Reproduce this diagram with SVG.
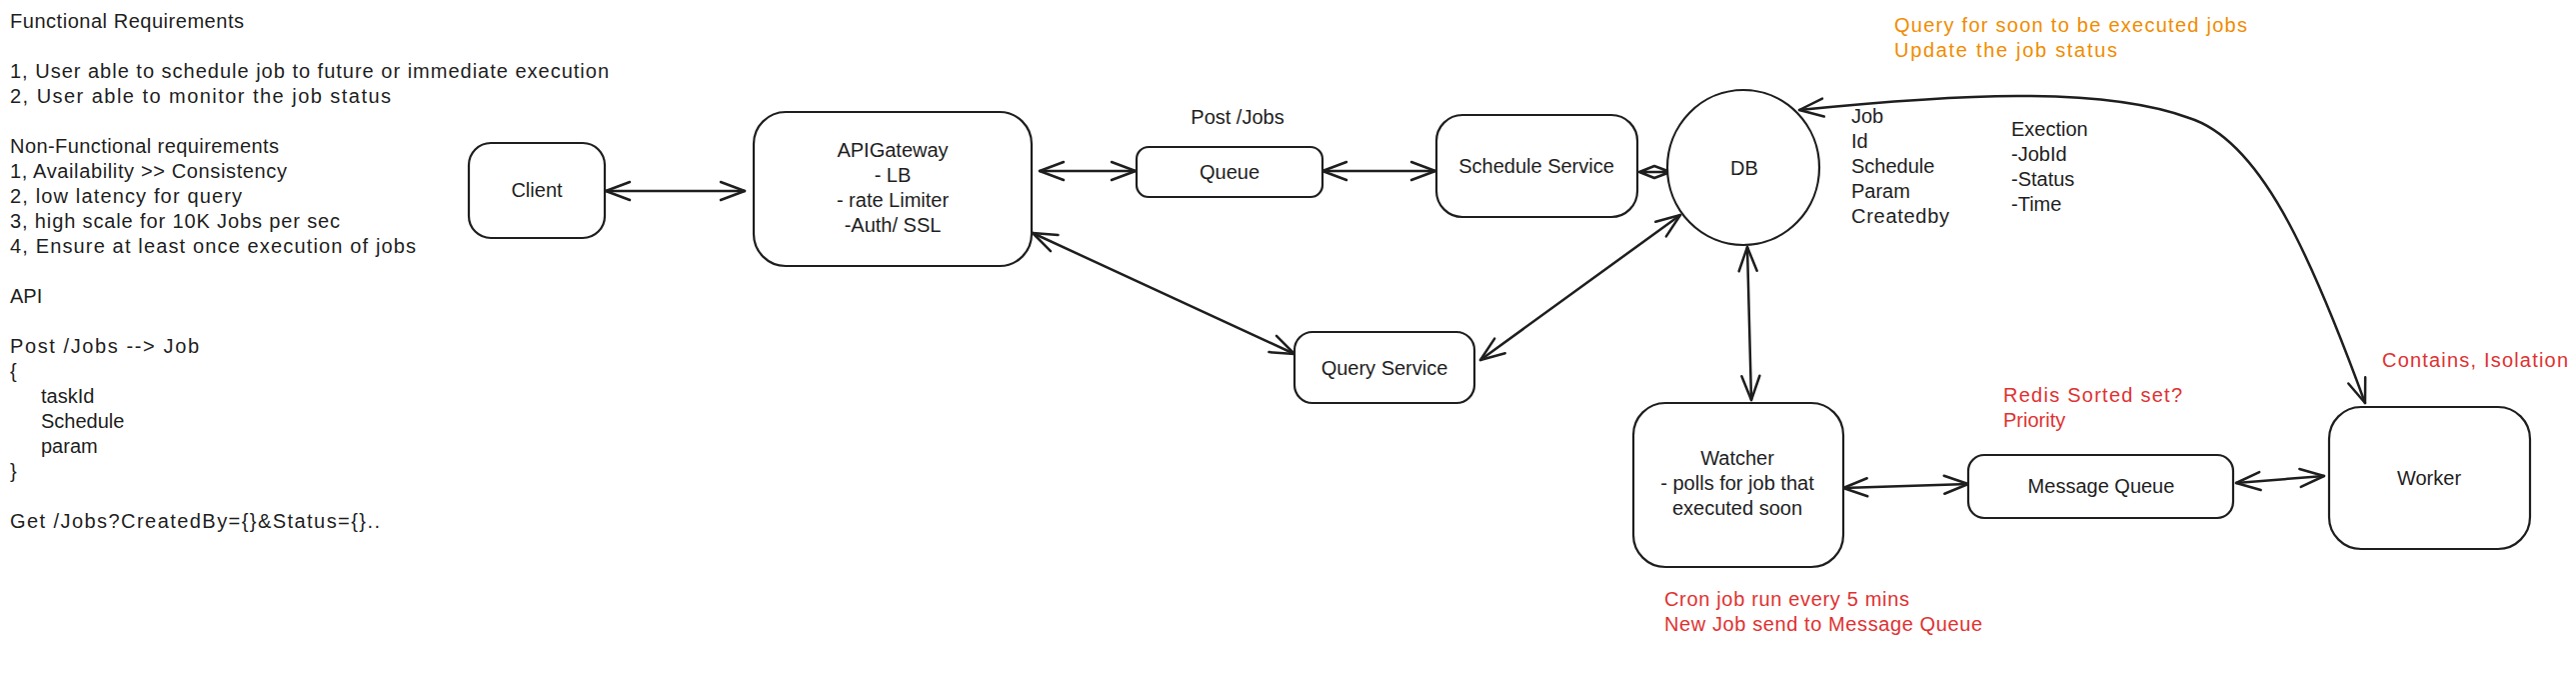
<svg xmlns="http://www.w3.org/2000/svg" width="2577" height="673" viewBox="0 0 2577 673">
<style>
.t{font-family:"Liberation Sans",Arial,sans-serif;font-size:20px;fill:#1e1e1e}
.c{text-anchor:middle}
.o{fill:#f08c00}
.r{fill:#e03131}
.box{fill:#ffffff;stroke:#1e1e1e;stroke-width:2.2}
.ln{fill:none;stroke:#1e1e1e;stroke-width:2.5;stroke-linecap:round;marker-start:url(#ah);marker-end:url(#ah)}
</style>
<defs>
<marker id="ah" viewBox="-30 -15 34 30" refX="0" refY="0" markerWidth="34" markerHeight="30" markerUnits="userSpaceOnUse" orient="auto-start-reverse">
<path d="M-24,-9 L0,0 L-24,9" fill="none" stroke="#1e1e1e" stroke-width="2.5" stroke-linecap="round" stroke-linejoin="round"/>
</marker>
</defs>
<rect width="2577" height="673" fill="#ffffff"/>

<g id="notes">
<text class="t" x="10" y="28" textLength="234">Functional Requirements</text>
<text class="t" x="10" y="78" textLength="599">1, User able to schedule job to future or immediate execution</text>
<text class="t" x="10" y="103" textLength="381">2, User able to monitor the job status</text>
<text class="t" x="10" y="153" textLength="269">Non-Functional requirements</text>
<text class="t" x="10" y="178" textLength="277">1, Availability &gt;&gt; Consistency</text>
<text class="t" x="10" y="203" textLength="232">2, low latency for query</text>
<text class="t" x="10" y="228" textLength="330">3, high scale for 10K Jobs per sec</text>
<text class="t" x="10" y="253" textLength="406">4, Ensure at least once execution of jobs</text>
<text class="t" x="10" y="303">API</text>
<text class="t" x="10" y="353" textLength="189">Post /Jobs --&gt; Job</text>
<text class="t" x="10" y="378">{</text>
<text class="t" x="41" y="403">taskId</text>
<text class="t" x="41" y="428">Schedule</text>
<text class="t" x="41" y="453">param</text>
<text class="t" x="10" y="478">}</text>
<text class="t" x="10" y="528" textLength="370">Get /Jobs?CreatedBy={}&amp;Status={}..</text>
</g>

<g id="connectors">
<path class="ln" d="M606,191 L745,191"/>
<path class="ln" d="M1040,171 L1136,171"/>
<path class="ln" d="M1323,171 L1436,171"/>
<path class="ln" d="M1033,233 L1295,354"/>
<path class="ln" d="M1481,360 L1681,215"/>
<path d="M1640,172 L1671,172 M1640,172 L1655,166 L1671,172 L1655,178 Z" fill="none" stroke="#1e1e1e" stroke-width="2.5" stroke-linejoin="round"/>
<path class="ln" d="M1748,247 L1752,400"/>
<path class="ln" d="M1844,488 L1969,484"/>
<path class="ln" d="M2237,483 L2325,476"/>
<path class="ln" d="M1800,110 C1950,95 2100,85 2190,118 C2260,140 2310,250 2366,403"/>
</g>

<g id="client">
<rect class="box" x="469" y="143" width="136" height="95" rx="22"/>
<text class="t c" x="537" y="197">Client</text>
</g>

<g id="apigateway">
<rect class="box" x="754" y="112" width="278" height="154" rx="32"/>
<text class="t c" x="893" y="157">APIGateway</text>
<text class="t c" x="893" y="182">- LB</text>
<text class="t c" x="893" y="207">- rate Limiter</text>
<text class="t c" x="893" y="232">-Auth/ SSL</text>
</g>

<g id="queue">
<text class="t c" x="1238" y="124">Post /Jobs</text>
<rect class="box" x="1137" y="147" width="186" height="50" rx="12"/>
<text class="t c" x="1230" y="179">Queue</text>
</g>

<g id="schedule-service">
<rect class="box" x="1437" y="115" width="201" height="102" rx="26"/>
<text class="t c" x="1537" y="173">Schedule Service</text>
</g>

<g id="query-service">
<rect class="box" x="1295" y="332" width="180" height="71" rx="18"/>
<text class="t c" x="1385" y="375">Query Service</text>
</g>

<g id="db">
<ellipse class="box" cx="1744" cy="167.5" rx="76" ry="77.5"/>
<text class="t c" x="1745" y="175">DB</text>
<text class="t" x="1852" y="123">Job</text>
<text class="t" x="1852" y="148">Id</text>
<text class="t" x="1852" y="173">Schedule</text>
<text class="t" x="1852" y="198">Param</text>
<text class="t" x="1852" y="223" textLength="98">Createdby</text>
<text class="t" x="2012" y="136">Exection</text>
<text class="t" x="2012" y="161">-JobId</text>
<text class="t" x="2012" y="186">-Status</text>
<text class="t" x="2012" y="211">-Time</text>
<text class="t o" x="1895" y="32" textLength="353">Query for soon to be executed jobs</text>
<text class="t o" x="1895" y="57" textLength="223">Update the job status</text>
</g>

<g id="watcher">
<rect class="box" x="1634" y="403" width="210" height="164" rx="32"/>
<text class="t c" x="1738" y="465">Watcher</text>
<text class="t c" x="1738" y="490">- polls for job that</text>
<text class="t c" x="1738" y="515">executed soon</text>
<text class="t r" x="1665" y="606" textLength="245">Cron job run every 5 mins</text>
<text class="t r" x="1665" y="631" textLength="318">New Job send to Message Queue</text>
</g>

<g id="message-queue">
<rect class="box" x="1969" y="455" width="265" height="63" rx="16"/>
<text class="t c" x="2102" y="493">Message Queue</text>
<text class="t r" x="2004" y="402" textLength="179">Redis Sorted set?</text>
<text class="t r" x="2004" y="427">Priority</text>
</g>

<g id="worker">
<rect class="box" x="2330" y="407" width="201" height="142" rx="32"/>
<text class="t c" x="2430" y="485">Worker</text>
<text class="t r" x="2383" y="367" textLength="186">Contains, Isolation</text>
</g>
</svg>
